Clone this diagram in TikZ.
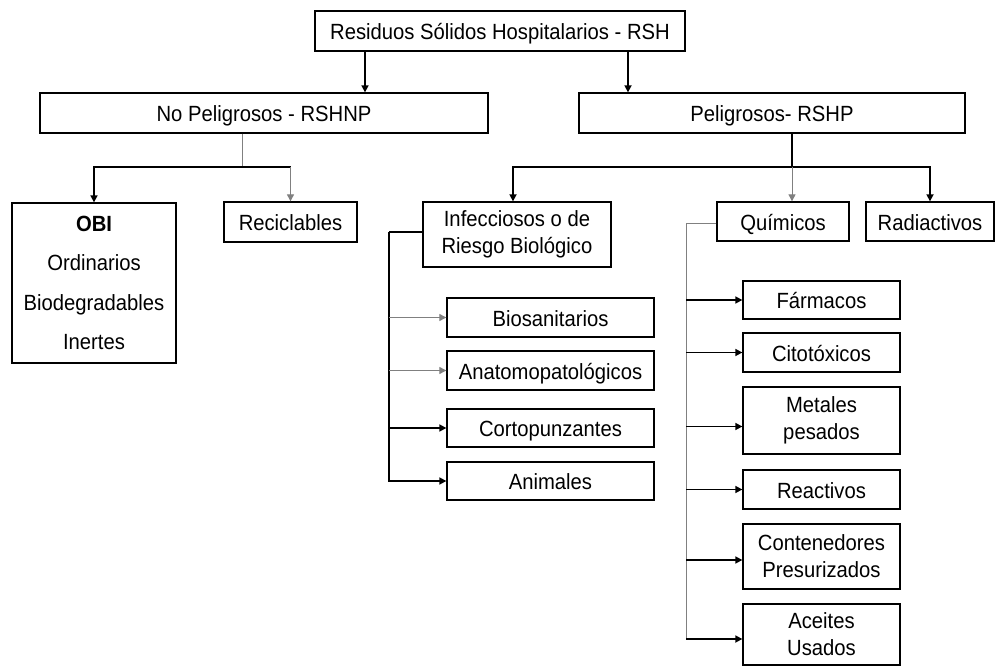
\documentclass[tikz,border=0pt]{standalone}
\usepackage{fontspec}
\setmainfont{Liberation Sans}[FakeStretch=0.92]
\usetikzlibrary{arrows.meta,calc}
\begin{document}
\begin{tikzpicture}[x=1pt,y=-1pt,
 box/.style={draw=black, line width=1.3pt, inner sep=0pt, align=center, font=\fontsize{22}{27}\selectfont},
 one/.style={box, text height=19pt, text depth=2pt},
 blk/.style={line width=1.6pt, black},
 gry/.style={line width=0.9pt, black!50},
 tip/.style={-{Triangle[length=7pt,width=7pt]}},
]
\useasboundingbox[fill=white] (0,0) rectangle (996,666);
% boxes
\node[one, minimum width=370pt, minimum height=40pt] (top) at (500,31) {Residuos Sólidos Hospitalarios - RSH};
\node[one, minimum width=448pt, minimum height=40pt] (np) at (264,113) {No Peligrosos - RSHNP};
\node[one, minimum width=386pt, minimum height=40pt] (p) at (772,113) {Peligrosos- RSHP};
\node[box, minimum width=164pt, minimum height=160pt, font=\fontsize{22}{39.5}\selectfont] (obi) at (94,283) {\textbf{OBI}\\Ordinarios\\Biodegradables\\Inertes};
\node[one, minimum width=133pt, minimum height=40pt] (rec) at (290.5,222) {Reciclables};
\node[box, minimum width=188pt, minimum height=65pt] (inf) at (517,234.5) {Infecciosos o de\\Riesgo Biológico};
\node[one, minimum width=132pt, minimum height=39pt] (qui) at (783,221.5) {Químicos};
\node[one, minimum width=128pt, minimum height=39pt] (rad) at (930,221.5) {Radiactivos};
\node[one, minimum width=207pt, minimum height=39pt] (bio) at (550.5,317.5) {Biosanitarios};
\node[one, minimum width=207pt, minimum height=39pt] (ana) at (550.5,370.5) {Anatomopatológicos};
\node[one, minimum width=207pt, minimum height=38pt] (cor) at (550.5,428) {Cortopunzantes};
\node[one, minimum width=207pt, minimum height=38pt] (ani) at (550.5,481) {Animales};
\node[one, minimum width=157pt, minimum height=38pt] (far) at (821.5,300) {Fármacos};
\node[one, minimum width=157pt, minimum height=39pt] (cit) at (821.5,352.5) {Citotóxicos};
\node[box, minimum width=157pt, minimum height=67pt] (met) at (821.5,420.5) {Metales\\pesados};
\node[one, minimum width=157pt, minimum height=39pt] (rea) at (821.5,489.5) {Reactivos};
\node[box, minimum width=157pt, minimum height=65pt] (con) at (821.5,556.5) {Contenedores\\Presurizados};
\node[box, minimum width=157pt, minimum height=61pt] (ace) at (821.5,634.5) {Aceites\\Usados};
% junction coordinates
\coordinate (npj) at (242,167);
\coordinate (pj) at (792,167);
\coordinate (infl) at (389,232);
\coordinate (quil) at (686,223);
\path ([yshift=-6pt]met.west) coordinate (metw);
\path ([yshift=-3.5pt]con.west) coordinate (conw);
\path ([yshift=-4.5pt]ace.west) coordinate (acew);
% top level
\draw[blk,tip] ([xshift=-135pt]top.south) -- ([xshift=-135pt]top.south |- np.north);
\draw[blk,tip] ([xshift=128pt]top.south) -- ([xshift=128pt]top.south |- p.north);
% no peligrosos
\draw[gry] (np.south -| npj) -- (npj);
\draw[blk,tip] (npj) -| (obi.north);
\draw[blk] (npj) -- (npj -| rec.north);
\draw[gry,tip] (npj -| rec.north) -- (rec.north);
% peligrosos
\draw[blk] (p.south -| pj) -- (pj);
\draw[blk,tip] (pj) -| ([xshift=-4pt]inf.north);
\draw[blk,tip] (pj) -| (rad.north);
\draw[gry,tip] (pj) -- (pj |- qui.north);
% infecciosos
\draw[blk] (infl -| inf.west) -- (infl);
\draw[blk,tip] (infl) |- (ani.west);
\draw[gry,tip] (infl |- bio.west) -- (bio.west);
\draw[gry,tip] (infl |- ana.west) -- (ana.west);
\draw[blk,tip] (infl |- cor.west) -- (cor.west);
% quimicos
\draw[gry] (quil -| qui.west) -- (quil) -- (quil |- acew);
\draw[blk,tip] (quil |- far.west) -- (far.west);
\draw[blk,tip] (quil |- cit.west) -- (cit.west);
\draw[blk,tip] (quil |- metw) -- (metw);
\draw[blk,tip] (quil |- rea.west) -- (rea.west);
\draw[blk,tip] (quil |- conw) -- (conw);
\draw[blk,tip] (quil |- acew) -- (acew);
\end{tikzpicture}
\end{document}
